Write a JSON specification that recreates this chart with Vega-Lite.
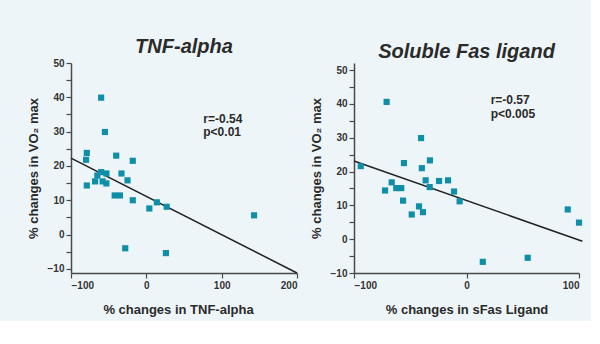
{
  "$schema": "https://vega.github.io/schema/vega-lite/v6.json",
  "background": "#eef5f9",
  "padding": {"left": 27, "top": 37, "right": 5, "bottom": 5},
  "spacing": 10,
  "datasets": {
    "tnf": [
      {"x": -60, "y": 39.9}, {"x": -55, "y": 29.9}, {"x": -79, "y": 23.8}, {"x": -80, "y": 21.8},
      {"x": -40, "y": 23.0}, {"x": -18, "y": 21.5}, {"x": -65, "y": 17.2}, {"x": -60, "y": 18.2},
      {"x": -53, "y": 17.8}, {"x": -33, "y": 17.8}, {"x": -68, "y": 15.5}, {"x": -58, "y": 15.5},
      {"x": -53, "y": 14.9}, {"x": -25, "y": 15.8}, {"x": -79, "y": 14.3}, {"x": -42, "y": 11.4},
      {"x": -35, "y": 11.4}, {"x": -18, "y": 10.0}, {"x": 14, "y": 9.4}, {"x": 27, "y": 8.1},
      {"x": 4, "y": 7.6}, {"x": 143, "y": 5.6}, {"x": -28, "y": -4.0}, {"x": 26, "y": -5.4}
    ],
    "tnfLine": [{"x": -100, "y": 22.3}, {"x": 200, "y": -11.2}],
    "tnfNote": [{"x": 75.6, "y": 33.7, "t": "r=-0.54"}, {"x": 75.6, "y": 29.9, "t": "p<0.01"}],
    "fas": [
      {"x": -94, "y": 21.6}, {"x": -71, "y": 40.6}, {"x": -40.4, "y": 29.9}, {"x": -32.5, "y": 23.3},
      {"x": -55.6, "y": 22.5}, {"x": -39.7, "y": 21.0}, {"x": -66.5, "y": 16.8}, {"x": -72.4, "y": 14.4},
      {"x": -62.4, "y": 15.1}, {"x": -58, "y": 15.1}, {"x": -56.4, "y": 11.4}, {"x": -48.7, "y": 7.3},
      {"x": -42.2, "y": 9.7}, {"x": -38.7, "y": 8.0}, {"x": -36.3, "y": 17.4}, {"x": -32.7, "y": 15.4},
      {"x": -24.4, "y": 17.2}, {"x": -16.4, "y": 17.4}, {"x": -11.1, "y": 14.1}, {"x": -6.1, "y": 11.2},
      {"x": 14.5, "y": -6.7}, {"x": 54.4, "y": -5.5}, {"x": 90, "y": 8.8}, {"x": 100, "y": 4.9}
    ],
    "fasLine": [{"x": -100, "y": 23.1}, {"x": 103, "y": -0.6}],
    "fasNote": [{"x": 21.5, "y": 41.1, "t": "r=-0.57"}, {"x": 21.5, "y": 37.1, "t": "p<0.005"}]
  },
  "config": {
    "view": {"stroke": null},
    "font": "Liberation Sans",
    "axis": {
      "grid": false,
      "domainColor": "#4a4a4a",
      "domainWidth": 1.5,
      "tickColor": "#4a4a4a",
      "tickWidth": 1.2,
      "tickSize": 5,
      "labelFont": "Liberation Sans",
      "labelFontWeight": "bold",
      "labelFontSize": 10,
      "labelColor": "#333333",
      "labelPadding": 2,
      "titleFont": "Liberation Sans",
      "titleFontWeight": "bold",
      "titleFontSize": 13,
      "titleColor": "#2a2a2a"
    },
    "title": {"font": "Liberation Sans", "fontSize": 20, "fontWeight": "bold", "fontStyle": "italic", "color": "#2a2a2a", "anchor": "middle"}
  },
  "hconcat": [
    {
      "width": 226,
      "height": 210,
      "title": {"text": "TNF-alpha", "offset": 1},
      "layer": [
        {
          "data": {"name": "tnfLine"},
          "mark": {"type": "line", "color": "#222222", "strokeWidth": 1.5},
          "encoding": {
            "x": {"field": "x", "type": "quantitative", "scale": {"domain": [-100, 200], "nice": false},
                  "axis": {"values": [-100, 0, 100, 200], "tickCount": 10, "labelOverlap": false, "title": "% changes in TNF-alpha", "titlePadding": 13, "titleX": 107}},
            "y": {"field": "y", "type": "quantitative", "scale": {"domain": [-11.2, 50], "nice": false},
                  "axis": {"values": [-10, -5, 0, 5, 10, 15, 20, 25, 30, 35, 40, 45, 50],
                           "tickCount": 30, "labelOverlap": false,
                           "labelExpr": "datum.value % 10 === 0 ? datum.label : ''",
                           "title": "% changes in VO₂ max", "titlePadding": 7}}
          }
        },
        {
          "data": {"name": "tnf"},
          "mark": {"type": "square", "size": 38, "color": "#0e8fa7", "opacity": 1},
          "encoding": {
            "x": {"field": "x", "type": "quantitative"},
            "y": {"field": "y", "type": "quantitative"}
          }
        },
        {
          "data": {"name": "tnfNote"},
          "mark": {"type": "text", "align": "left", "baseline": "middle", "fontSize": 12, "fontWeight": "bold", "color": "#2a2a2a"},
          "encoding": {
            "x": {"field": "x", "type": "quantitative"},
            "y": {"field": "y", "type": "quantitative"},
            "text": {"field": "t"}
          }
        }
      ]
    },
    {
      "width": 225,
      "height": 210,
      "title": {"text": "Soluble Fas ligand", "offset": 1},
      "layer": [
        {
          "data": {"name": "fasLine"},
          "mark": {"type": "line", "color": "#222222", "strokeWidth": 1.5},
          "encoding": {
            "x": {"field": "x", "type": "quantitative", "scale": {"domain": [-100, 100], "nice": false},
                  "axis": {"values": [-100, 0, 100], "tickCount": 10, "labelOverlap": false, "title": "% changes in sFas Ligand", "titlePadding": 13}},
            "y": {"field": "y", "type": "quantitative", "scale": {"domain": [-10, 52.1], "nice": false},
                  "axis": {"values": [-10, -5, 0, 5, 10, 15, 20, 25, 30, 35, 40, 45, 50],
                           "tickCount": 30, "labelOverlap": false,
                           "labelExpr": "datum.value % 10 === 0 ? datum.label : ''",
                           "title": "% changes in VO₂ max", "titlePadding": 7}}
          }
        },
        {
          "data": {"name": "fas"},
          "mark": {"type": "square", "size": 38, "color": "#0e8fa7", "opacity": 1},
          "encoding": {
            "x": {"field": "x", "type": "quantitative"},
            "y": {"field": "y", "type": "quantitative"}
          }
        },
        {
          "data": {"name": "fasNote"},
          "mark": {"type": "text", "align": "left", "baseline": "middle", "fontSize": 12, "fontWeight": "bold", "color": "#2a2a2a"},
          "encoding": {
            "x": {"field": "x", "type": "quantitative"},
            "y": {"field": "y", "type": "quantitative"},
            "text": {"field": "t"}
          }
        }
      ]
    }
  ]
}
